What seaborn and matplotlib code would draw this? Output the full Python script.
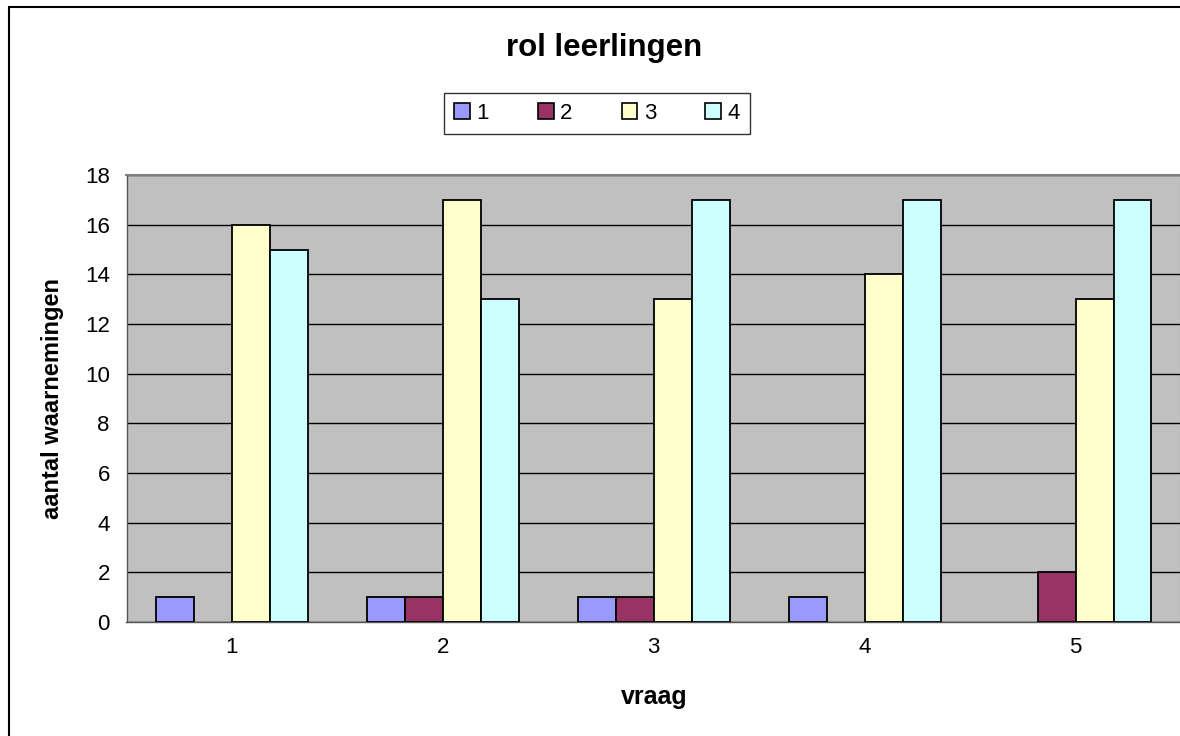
import pandas as pd
import numpy as np
import seaborn as sns
import matplotlib.pyplot as plt
from matplotlib.patches import Rectangle

## Data
vragen = ['1', '2', '3', '4', '5']
antwoord_1 = [1, 1, 1, 1, 0]
antwoord_2 = [0, 1, 1, 0, 2]
antwoord_3 = [16, 17, 13, 14, 13]
antwoord_4 = [15, 13, 17, 17, 17]
series_names = ['1', '2', '3', '4']
kleuren = ['#9999FF', '#993366', '#FFFFCC', '#CCFFFF']

rows = []
for naam, waarden in zip(series_names, [antwoord_1, antwoord_2, antwoord_3, antwoord_4]):
    for v, w in zip(vragen, waarden):
        rows.append({'vraag': v, 'serie': naam, 'aantal': w})
df = pd.DataFrame(rows)

sns.set_style('white')
plt.rcParams['font.family'] = ['Liberation Sans', 'DejaVu Sans']
plt.rcParams['text.color'] = 'black'
plt.rcParams['axes.labelcolor'] = 'black'
plt.rcParams['xtick.color'] = 'black'
plt.rcParams['ytick.color'] = 'black'

fig = plt.figure(figsize=(11.8, 7.36), dpi=100)
ax = fig.add_axes([126.5 / 1180, 1 - 622 / 736, (1181 - 126.5) / 1180, (622 - 175) / 736])
ax.set_facecolor('#C0C0C0')

sns.barplot(data=df, x='vraag', y='aantal', hue='serie', palette=kleuren,
            width=0.72, edgecolor='black', linewidth=1.3, saturation=1,
            legend=False, ax=ax, zorder=3)

# Excel draws nothing for a zero bar
for p in ax.patches:
    if p.get_height() == 0:
        p.set_linewidth(0)

ax.set_ylim(0, 18)
ax.set_yticks(range(0, 19, 2))
ax.set_xlim(-0.5, 4.5)
ax.yaxis.grid(True, color='black', linewidth=1)
ax.set_axisbelow(True)

# category ticks sit between groups, labels in the middle
ax.set_xticks(np.arange(-0.5, 5, 1))
ax.set_xticklabels([])
ax.set_xticks(range(5), minor=True)
ax.set_xticklabels(vragen, minor=True)
ax.tick_params(axis='x', which='major', direction='out', length=6, color='#555555', width=1)
ax.tick_params(axis='x', which='minor', length=0, pad=11, labelsize=16)
ax.tick_params(axis='y', direction='out', length=6, color='#555555', width=1, pad=6, labelsize=16)

for s in ['top', 'right']:
    ax.spines[s].set_color('#808080')
    ax.spines[s].set_linewidth(1.5)
for s in ['left', 'bottom']:
    ax.spines[s].set_color('#555555')
    ax.spines[s].set_linewidth(1)

ax.set_xlabel('vraag', fontsize=18, fontweight='bold', labelpad=19)
ax.set_ylabel('aantal waarnemingen', fontsize=17, fontweight='bold', labelpad=15)

fig.text(604 / 1180, 1 - 48 / 736, 'rol leerlingen', ha='center', va='center',
         fontsize=22.5, fontweight='bold')

handles = [plt.Rectangle((0, 0), 1, 1, facecolor=c, edgecolor='black', linewidth=1.2)
           for c in kleuren]
leg = fig.legend(handles, series_names, loc='center', bbox_to_anchor=(597 / 1180, 1 - 113.5 / 736),
                 ncol=4, frameon=True, fancybox=False, shadow=False, fontsize=16,
                 handlelength=0.7, handleheight=0.7, handletextpad=0.3, columnspacing=2.2,
                 borderpad=0.45, borderaxespad=0)
leg.get_frame().set_edgecolor('black')
leg.get_frame().set_linewidth(1)

# outer chart border (left and top visible)
fig.patches.append(Rectangle((9 / 1180, -0.1), 1.2, 1.1 - 7 / 736, transform=fig.transFigure,
                             fill=False, edgecolor='black', linewidth=1.5, zorder=0))

fig.savefig('out.png', dpi=100)
